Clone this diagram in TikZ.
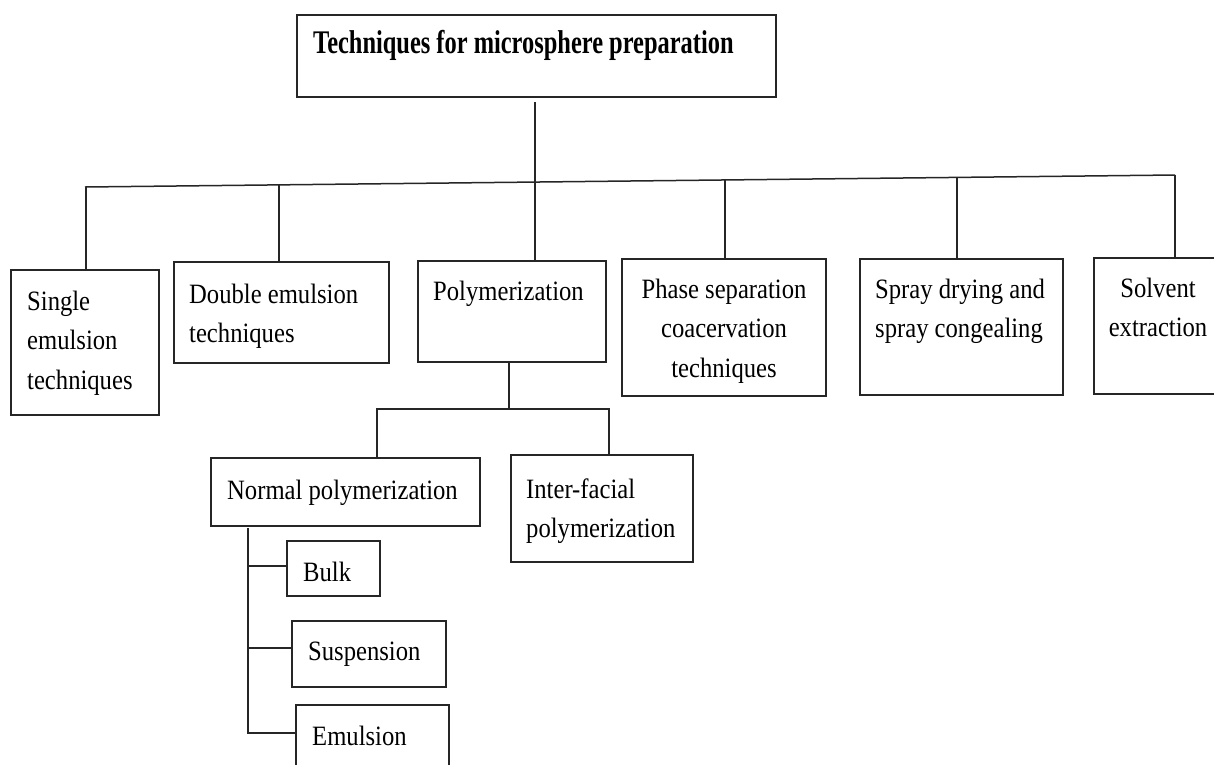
\documentclass[tikz,border=0pt]{standalone}
\usepackage{fontspec}
\setmainfont{Liberation Serif}[FakeStretch=0.88]
\newfontfamily\titlefont{Liberation Serif}[FakeStretch=0.74]
\usetikzlibrary{positioning}

\tikzset{
    box/.style={draw=black!85, line width=1.5pt, anchor=north west, inner sep=0pt, outer sep=0pt},
    txt/.style={anchor=north west, inner sep=0pt, align=left, font=\fontsize{28}{39.5}\selectfont},
    link/.style={draw=black!85, line width=1.5pt},
}

\begin{document}
\begin{tikzpicture}[x=1pt, y=-1pt]
                
                % Area do desenho
                \clip (0,0) rectangle (1214,764);
                \fill[white] (0,0) rectangle (1214,764);
                
                % Caixas
                \node[box, minimum width=479pt, minimum height=82pt] (box_title) at (297,15) {};
                \node[box, minimum width=148pt, minimum height=145pt] (box_single) at (11,270) {};
                \node[box, minimum width=215pt, minimum height=101pt] (box_double) at (174,262) {};
                \node[box, minimum width=188pt, minimum height=101pt] (box_poly) at (418,261) {};
                \node[box, minimum width=204pt, minimum height=137pt] (box_phase) at (622,259) {};
                \node[box, minimum width=203pt, minimum height=136pt] (box_spray) at (860,259) {};
                \node[box, minimum width=128pt, minimum height=136pt] (box_solvent) at (1094,258) {};
                \node[box, minimum width=269pt, minimum height=68pt] (box_normal) at (211,458) {};
                \node[box, minimum width=182pt, minimum height=107pt] (box_inter) at (511,455) {};
                \node[box, minimum width=93pt, minimum height=55pt] (box_bulk) at (287,541) {};
                \node[box, minimum width=154pt, minimum height=66pt] (box_susp) at (292,621) {};
                \node[box, minimum width=153pt, minimum height=90pt] (box_emul) at (296,705) {};
                
                % Textos
                \node[txt, font=\titlefont\bfseries\fontsize{33}{40}\selectfont] (txt_title) at (313,25) {\strut Techniques for microsphere preparation};
                \node[txt] (txt_single) at (27,282.35) {\strut Single\\emulsion\\techniques};
                \node[txt] (txt_double) at (189,275.35) {\strut Double emulsion\\techniques};
                \node[txt] (txt_poly) at (433,272.35) {\strut Polymerization};
                \node[txt, anchor=north, align=center] (txt_phase) at (724,270.35) {\strut Phase separation\\coacervation\\techniques};
                \node[txt] (txt_spray) at (875,270.35) {\strut Spray drying and\\spray congealing};
                \node[txt, anchor=north, align=center] (txt_solvent) at (1158,269.35) {\strut Solvent\\extraction};
                \node[txt] (txt_normal) at (227,471.35) {\strut Normal polymerization};
                \node[txt] (txt_inter) at (526,470.35) {\strut Inter-facial\\polymerization};
                \node[txt] (txt_bulk) at (303,553.35) {\strut Bulk};
                \node[txt] (txt_susp) at (308,632.35) {\strut Suspension};
                \node[txt] (txt_emul) at (312,717.35) {\strut Emulsion};
                
                % Barramento principal
                \coordinate (bus_left) at (85,187);
                \coordinate (bus_right) at (1175,175);
                \coordinate (trunk) at (535,182);
                \draw[link] (bus_left) -- (bus_right);
                \draw[link, shorten <=5pt] (trunk |- box_title.south) -- (trunk) -- (trunk |- box_poly.north);
                \foreach \x/\target in {86/single, 279/double, 725/phase, 957/spray, 1175/solvent} {
                    \coordinate (drop_\target) at (\x, {187-12*(\x-85)/1090});
                    \draw[link] (drop_\target) -- (drop_\target |- box_\target.north);
                }
                
                % Ramo da polimerizacao
                \coordinate (sub_left) at (377,409);
                \coordinate (sub_mid) at (509,409);
                \coordinate (sub_right) at (609,409);
                \draw[link] (sub_mid |- box_poly.south) -- (sub_mid);
                \draw[link] (sub_left |- box_normal.north) -- (sub_left) -- (sub_right) -- (sub_right |- box_inter.north);
                
                % Tipos de polimerizacao normal
                \coordinate (br_bulk) at (248,566);
                \coordinate (br_susp) at (248,648);
                \coordinate (br_emul) at (248,733);
                \draw[link, shorten <=2pt] (br_emul |- box_normal.south) -- (br_emul) -- (br_emul -| box_emul.west);
                \draw[link] (br_bulk) -- (br_bulk -| box_bulk.west);
                \draw[link] (br_susp) -- (br_susp -| box_susp.west);
                
            \end{tikzpicture}
\end{document}
